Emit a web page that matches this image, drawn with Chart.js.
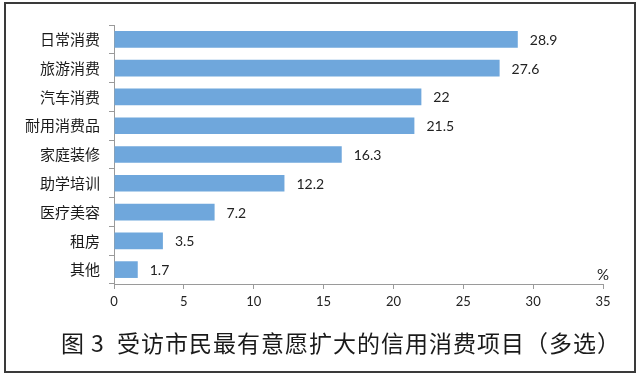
<!DOCTYPE html>
<html>
<head>
<meta charset="utf-8">
<script src="https://cdn.jsdelivr.net/npm/chart.js@4"></script>
<style>
  html, body { margin: 0; padding: 0; background: #fff; }
  #chart { display: block; }
</style>
</head>
<body>
<canvas id="chart" width="640" height="376"></canvas>
<script>
// categorias y valores (%)
const categorias = ['日常消费', '旅游消费', '汽车消费', '耐用消费品', '家庭装修', '助学培训', '医疗美容', '租房', '其他'];
const valores = [28.9, 27.6, 22, 21.5, 16.3, 12.2, 7.2, 3.5, 1.7];
const ejeMin = 0;
const ejeMax = 35;
const ejePaso = 5;
const titulo = '图 3  受访市民最有意愿扩大的信用消费项目（多选）';
const unidad = '%';

const FUENTE_CJK = '"Noto Sans CJK SC", "Noto Sans", sans-serif';
const FUENTE_NUM = 'Lato, "Open Sans", sans-serif';

// marco, titulo, unidad y etiquetas de valor
const extras = {
    id: 'extras',
    afterDatasetsDraw(chart) {
        const ctx = chart.ctx;
        const meta = chart.getDatasetMeta(0);
        ctx.save();
        ctx.fillStyle = '#222';
        ctx.font = '14px ' + FUENTE_NUM;
        ctx.textAlign = 'left';
        ctx.textBaseline = 'middle';
        meta.data.forEach((bar, i) => {
            ctx.fillText(String(valores[i]), bar.x + 12, bar.y + 1);
        });
        ctx.restore();
    },
    afterDraw(chart) {
        const ctx = chart.ctx;
        const x = chart.scales.x;
        const area = chart.chartArea;
        ctx.save();
        // unidad sobre el eje
        ctx.fillStyle = '#222';
        ctx.font = '15px ' + FUENTE_NUM;
        ctx.textAlign = 'center';
        ctx.textBaseline = 'middle';
        ctx.fillText(unidad, x.getPixelForValue(ejeMax), area.bottom - 9);
        // titulo inferior
        ctx.font = '23px ' + FUENTE_CJK;
        ctx.letterSpacing = '1px';
        ctx.fillStyle = '#1a1a1a';
        ctx.fillText(titulo, 341, 343);
        ctx.letterSpacing = '0px';
        // marco
        ctx.strokeStyle = '#3a3a3a';
        ctx.lineWidth = 2;
        ctx.strokeRect(5, 3, 630, 369);
        ctx.restore();
    }
};

new Chart(document.getElementById('chart'), {
    type: 'bar',
    data: {
        labels: categorias,
        datasets: [{
            data: valores,
            backgroundColor: '#6fa7dc',
            borderWidth: 0,
            categoryPercentage: 1,
            barPercentage: 0.58
        }]
    },
    options: {
        indexAxis: 'y',
        responsive: false,
        animation: false,
        devicePixelRatio: 1,
        layout: { padding: { left: 0, top: 25, right: 37, bottom: 62 } },
        plugins: {
            legend: { display: false },
            tooltip: { enabled: false },
            title: { display: false }
        },
        scales: {
            x: {
                min: ejeMin,
                max: ejeMax,
                afterFit: (s) => { s.height = 30; },
                ticks: {
                    stepSize: ejePaso,
                    color: '#222',
                    padding: 5,
                    font: { family: FUENTE_NUM, size: 13 }
                },
                grid: { drawOnChartArea: false, tickLength: 5, color: '#9a9a9a' },
                border: { color: '#9a9a9a' }
            },
            y: {
                afterFit: (s) => { s.width = 114; },
                ticks: {
                    color: '#1a1a1a',
                    padding: 9,
                    font: { family: FUENTE_CJK, size: 15 }
                },
                grid: { drawOnChartArea: false, tickLength: 5, color: '#9a9a9a', offset: true },
                border: { color: '#9a9a9a' }
            }
        }
    },
    plugins: [extras]
});
</script>
</body>
</html>
